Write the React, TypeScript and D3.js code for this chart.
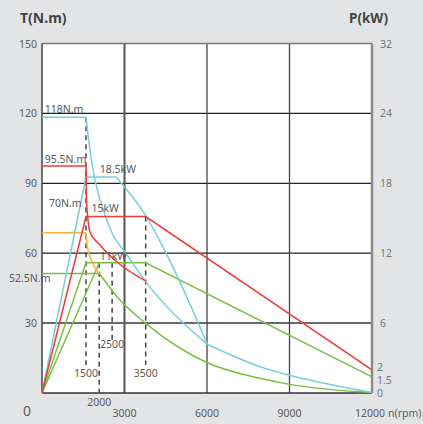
import React from 'react';
import * as d3 from 'd3';

// ---- axis ticks ----
const xTicks = [3000, 6000, 9000, 12000];
const yTicks = [30, 60, 90, 120, 150];
const rightTickLabels = ['0', '1.5', '2', '6', '12', '18', '24', '32'];
const rightTickAt = [0, 5.6, 11.2, 30, 60, 90, 120, 150];

// ---- marker (dashed) lines: rpm position, top torque, bottom torque, label ----
const markerRpm = [1600, 2080, 2550, 3770];
const markerTop = [118.3, 55.9, 55.9, 75.7];
const markerBottom = [12, 0, 22.5, 12];
const markerLabels = ['1500', '2000', '2500', '3500'];

// ---- series (rpm, value on torque scale) ----
const cyanTorqueFlat: [number, number][] = [[0, 118.3], [1600, 118.3]];
const cyanTorqueDrop: [number, number][] = [[1600, 118.3], [1745, 104.3], [1927, 91.4], [2255, 77.7], [2582, 67.8], [3018, 60.5], [3764, 47.9], [6011, 20.9]];
const cyanTorqueTail: [number, number][] = [[6011, 20.9], [7927, 11.3], [9007, 7.6], [12000, 0.2]];
const cyanPowerRise: [number, number][] = [[0, 0], [1600, 92.7], [2691, 92.7]];
const cyanPowerDrop: [number, number][] = [[2691, 92.7], [3684, 77.7], [4845, 52], [6011, 20.9]];

const redTorqueFlat: [number, number][] = [[0, 97.4], [1600, 97.4]];
const redTorqueDrop: [number, number][] = [[1600, 97.4], [1618, 82.8], [1673, 74.3], [1745, 69.1], [2109, 63.5], [2727, 56.2], [3764, 48.1]];
const redPower: [number, number][] = [[0, 0], [1600, 75.7], [3771, 75.7], [12000, 9.9]];

const orangeTorqueFlat: [number, number][] = [[0, 68.8], [1600, 68.8]];
const orangeTorqueDrop: [number, number][] = [[1600, 68.8], [1640, 63.4], [1818, 56.3], [2084, 51.3]];

const greenPowerA: [number, number][] = [[0, 0], [1600, 55.9], [3771, 55.9], [12000, 6.9]];
const greenPowerB: [number, number][] = [[0, 0], [2084, 55.9]];
const greenTorqueFlat: [number, number][] = [[0, 51.3], [2084, 51.3]];
const greenTorqueDrop: [number, number][] = [[2084, 51.3], [2836, 39.9], [3771, 29.9], [6011, 13], [7927, 6.3], [9007, 3.7], [12000, 0.2]];

// ---- text annotations ----
const annTexts = ['118N.m', '95.5N.m', '18.5kW', '70N.m', '15kW', '11kW', '52.5N.m'];
const annRpm = [100, 100, 2100, 250, 1800, 2100, -1200];
const annVal = [120, 98.5, 94.5, 80, 77.5, 57, 47.5];

const COLORS = { cyan: '#76cfd9', red: '#f03a36', green: '#78bf45', orange: '#f8b334' };

export default function App() {
  const W = 423, H = 424;
  const x = d3.scaleLinear().domain([0, 12000]).range([42, 372]);
  const y = d3.scaleLinear().domain([0, 150]).range([393, 43.5]);
  const lin = d3.line<[number, number]>().x(d => x(d[0])).y(d => y(d[1]));
  const smooth = d3.line<[number, number]>().x(d => x(d[0])).y(d => y(d[1])).curve(d3.curveMonotoneX);
  const font = '"Noto Sans", "Open Sans", sans-serif';
  const tc = '#5a5a5a';

  const P = (d: string, c: string) => <path d={d} fill="none" stroke={c} strokeWidth={1.5} />;

  return (
    <svg width={W} height={H} style={{ position: 'absolute', left: 0, top: 0 }} fontFamily={font}>
      <rect x={0} y={0} width={W} height={H} fill="#e3e4e6" />
      <rect x={x(0)} y={y(150)} width={x(12000) - x(0)} height={y(0) - y(150)} fill="#ffffff" />

      {/* grid */}
      {yTicks.filter(t => t < 150).map(t => (
        <line key={'h' + t} x1={x(0)} x2={x(12000)} y1={y(t)} y2={y(t)}
          stroke={t === 30 ? '#6a6a6a' : '#222'} strokeWidth={t === 30 ? 2 : 1.3} />
      ))}
      {xTicks.filter(t => t < 12000).map(t => (
        <line key={'v' + t} x1={x(t)} x2={x(t)} y1={y(0)} y2={y(150)}
          stroke={t === 3000 ? '#555' : '#444'} strokeWidth={t === 3000 ? 2 : 1.3} />
      ))}
      {/* frame */}
      <line x1={x(0)} x2={x(12000)} y1={y(150)} y2={y(150)} stroke="#777" strokeWidth={1.5} />
      <line x1={x(0)} x2={x(12000)} y1={y(0)} y2={y(0)} stroke="#333" strokeWidth={1.5} />
      <line x1={x(0)} x2={x(0)} y1={y(0)} y2={y(150)} stroke="#444" strokeWidth={1.5} />
      <line x1={x(12000)} x2={x(12000)} y1={y(0)} y2={y(150)} stroke="#8a8a8a" strokeWidth={2.5} />

      {/* dashed markers */}
      {markerRpm.map((r, i) => (
        <line key={'m' + i} x1={x(r)} x2={x(r)} y1={y(markerTop[i])} y2={y(markerBottom[i])}
          stroke="#444" strokeWidth={1.5} strokeDasharray="5,4" />
      ))}

      {/* curves */}
      {P(lin(greenPowerA)!, COLORS.green)}
      {P(lin(greenPowerB)!, COLORS.green)}
      {P(lin(greenTorqueFlat)!, COLORS.green)}
      {P(smooth(greenTorqueDrop)!, COLORS.green)}
      {P(lin(orangeTorqueFlat)!, COLORS.orange)}
      {P(smooth(orangeTorqueDrop)!, COLORS.orange)}
      {P(lin(cyanPowerRise)!, COLORS.cyan)}
      {P(smooth(cyanPowerDrop)!, COLORS.cyan)}
      {P(lin(cyanTorqueFlat)!, COLORS.cyan)}
      {P(smooth(cyanTorqueDrop)!, COLORS.cyan)}
      {P(smooth(cyanTorqueTail)!, COLORS.cyan)}
      {P(lin(redPower)!, COLORS.red)}
      {P(lin(redTorqueFlat)!, COLORS.red)}
      {P(smooth(redTorqueDrop)!, COLORS.red)}

      {/* annotations */}
      {annTexts.map((t, i) => (
        <text key={'a' + i} x={x(annRpm[i])} y={y(annVal[i])} fontSize={10.5} fill={tc}>{t}</text>
      ))}
      {markerRpm.map((r, i) => (
        <text key={'ml' + i} x={x(r)} y={i === 1 ? 406 : i === 2 ? 348 : 377}
          fontSize={10.5} fill={tc} textAnchor="middle">{markerLabels[i]}</text>
      ))}

      {/* left axis labels */}
      {yTicks.map(t => (
        <text key={'yl' + t} x={37} y={y(t) + 4} fontSize={10.5} fill={tc} textAnchor="end">{t}</text>
      ))}
      <text x={27} y={416} fontSize={14} fill={tc} textAnchor="middle">0</text>
      {/* right axis labels */}
      {rightTickLabels.map((t, i) => (
        <text key={'yr' + i} x={rightTickAt[i] < 20 ? 377 : 380} y={y(rightTickAt[i]) + 4} fontSize={10.5} fill="#777">{t}</text>
      ))}
      {/* bottom labels */}
      {xTicks.map(t => (
        <text key={'xl' + t} x={x(t) - (t === 12000 ? 2 : 0)} y={417} fontSize={10.5} fill={tc} textAnchor="middle">{t}</text>
      ))}
      <text x={388} y={417} fontSize={10.5} fill={tc}>n(rpm)</text>

      {/* titles */}
      <text x={20} y={23} fontSize={14} fontWeight="bold" fill="#444">T(N.m)</text>
      <text x={349} y={23} fontSize={13.5} fontWeight="bold" fill="#444">P(kW)</text>
    </svg>
  );
}
